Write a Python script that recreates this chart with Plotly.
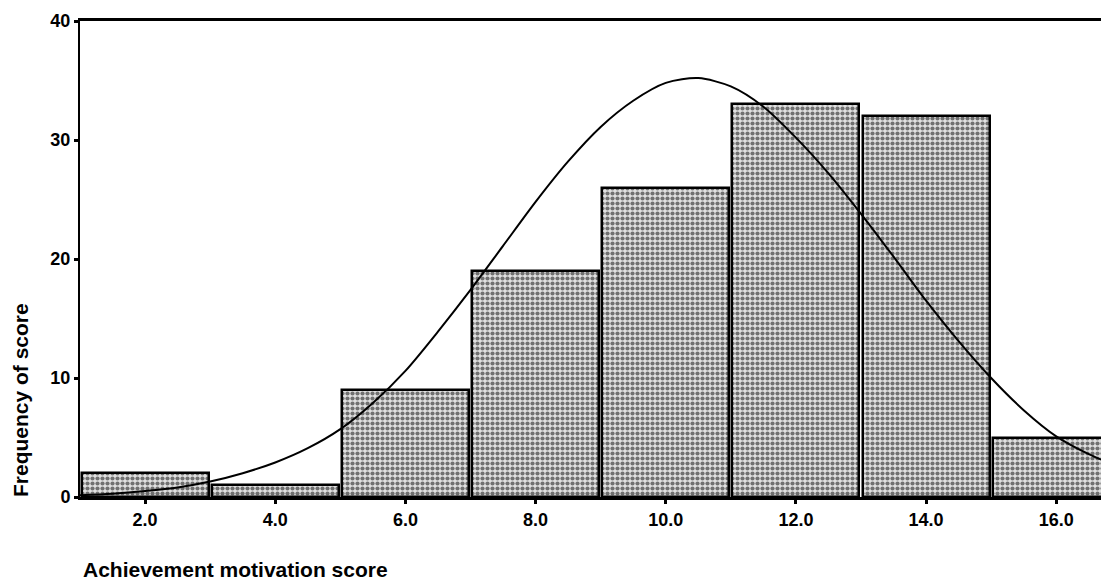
import plotly.graph_objects as go

# Histogram bins (centres) and frequencies
bin_centers = [2, 4, 6, 8, 10, 12, 14, 16]
frequencies = [2, 1, 9, 19, 26, 33, 32, 5]

# Normal curve
curve_x = [1, 1.5, 2, 2.5, 3, 3.5, 4, 4.5, 5, 5.5, 6, 6.5, 7, 7.5, 8, 8.5, 9, 9.5,
           10, 10.5, 11, 11.5, 12, 12.5, 13, 13.5, 14, 14.5, 15, 15.5, 16, 16.5, 16.8]
curve_y = [0.15, 0.28, 0.5, 0.8, 1.3, 2.0, 2.9, 4.1, 5.7, 7.9, 10.6, 13.9, 17.4, 21.1, 24.8, 28.2, 31.1, 33.3,
           34.8, 35.2, 34.5, 32.8, 30.2, 27.2, 23.8, 20.2, 16.5, 13.1, 10.0, 7.3, 5.1, 3.6, 2.9]

x_ticks = [2, 4, 6, 8, 10, 12, 14, 16]
y_ticks = [0, 10, 20, 30, 40]

FONT = "Liberation Sans"

fig = go.Figure()
fig.add_trace(go.Bar(
    x=bin_centers, y=frequencies, width=1.95,
    marker=dict(
        color="#c0c0c0",
        line=dict(color="black", width=2.5),
        pattern=dict(shape=".", fgcolor="black", bgcolor="#e0e0e0", size=5, solidity=0.55),
    ),
    showlegend=False,
))
fig.add_trace(go.Scatter(
    x=curve_x, y=curve_y, mode="lines",
    line=dict(color="black", width=2, shape="spline", smoothing=0.8),
    showlegend=False,
))

# The page adds an 8px body margin, so the figure is sized to fit the window
fig.update_layout(
    width=1101, height=576,
    margin=dict(l=72, r=2, t=13, b=87, autoexpand=False),
    paper_bgcolor="white", plot_bgcolor="white",
    font=dict(family=FONT, color="black", size=14),
    bargap=0,
)
fig.update_xaxes(
    range=[1, 16.78], tickvals=x_ticks, ticktext=[f"{v:.1f}" for v in x_ticks],
    showgrid=False, zeroline=False, showline=True, linecolor="black", linewidth=3,
    mirror=True, ticks="outside", ticklen=4, tickwidth=3, tickcolor="black",
    tickfont=dict(family=FONT, size=18, color="black", weight="bold"),
    automargin=False,
)
fig.update_yaxes(
    range=[0, 40], tickvals=y_ticks,
    showgrid=False, zeroline=False, showline=True, linecolor="black", linewidth=2,
    ticks="outside", ticklen=4, tickwidth=3, tickcolor="black",
    tickfont=dict(family=FONT, size=18, color="black", weight="bold"),
    automargin=False,
)
fig.add_annotation(
    text="Achievement motivation score", xref="paper", yref="paper",
    x=0, y=0, xanchor="left", yanchor="middle", yshift=-72, xshift=3,
    borderpad=0, borderwidth=0,
    showarrow=False, font=dict(family=FONT, size=21, color="black", weight="bold"),
)
fig.add_annotation(
    text="Frequency of score", xref="paper", yref="y",
    x=0, y=8.15, xanchor="center", yanchor="middle", xshift=-60,
    textangle=-90, showarrow=False, font=dict(family=FONT, size=21, color="black", weight="bold"),
)

fig.write_html("out.html")
